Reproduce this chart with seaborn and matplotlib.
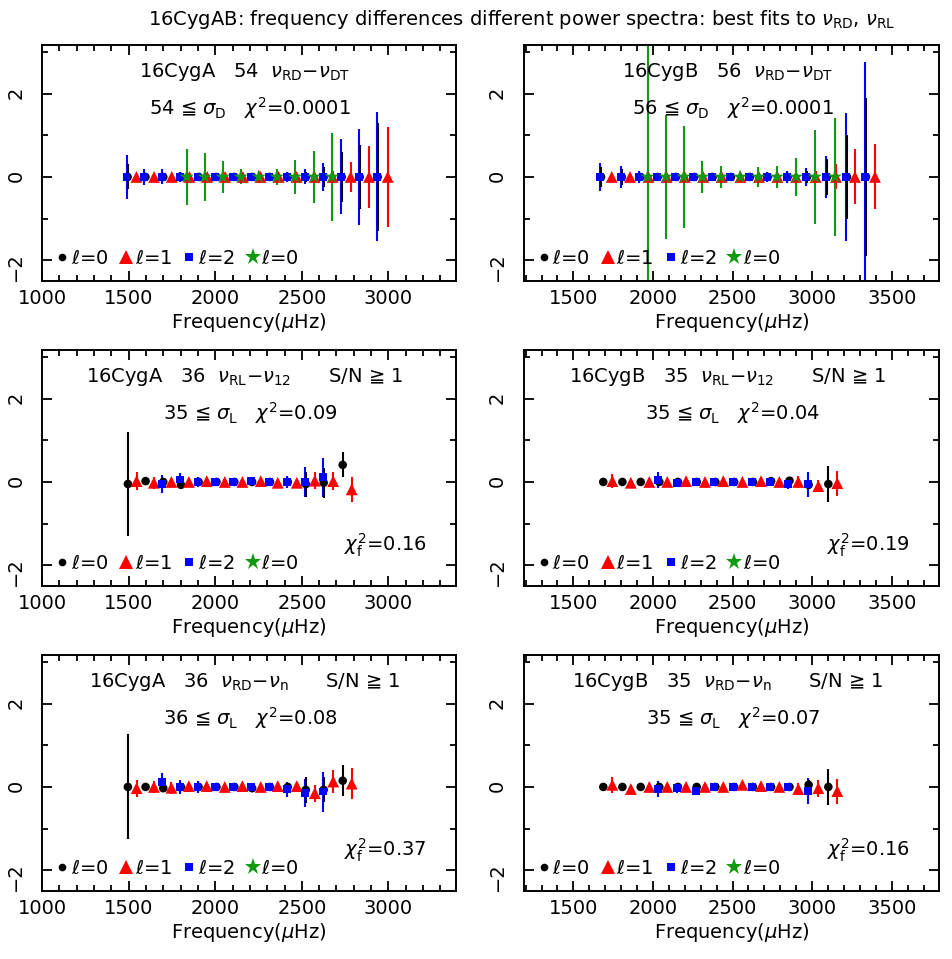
import matplotlib
matplotlib.use("Agg")
import matplotlib.pyplot as plt
import seaborn as sns
from matplotlib.lines import Line2D
from matplotlib.ticker import MultipleLocator

# ---------------- data (frequency in muHz, difference, error) ----------------
# row 1: nu_RD - nu_DT, all differences zero
dt_a_l0_nu = [1494, 1597, 1700, 1802, 1904, 2007, 2110, 2213, 2316, 2419, 2523, 2626, 2730, 2834, 2938]
dt_a_l0_err = [0.3, 0.1, 0.1, 0.08, 0.06, 0.05, 0.05, 0.05, 0.06, 0.08, 0.12, 0.25, 0.6, 0.76, 1.3]
dt_a_l1_nu = [1545, 1647, 1749, 1851, 1954, 2057, 2160, 2262, 2366, 2470, 2574, 2678, 2782, 2888, 2996]
dt_a_l1_err = [0.08, 0.06, 0.05, 0.05, 0.05, 0.05, 0.05, 0.05, 0.05, 0.06, 0.08, 0.15, 0.35, 0.75, 1.2]
dt_a_l2_nu = [1488, 1591, 1694, 1796, 1898, 2001, 2104, 2207, 2310, 2413, 2517, 2620, 2728, 2828, 2932]
dt_a_l2_err = [0.53, 0.2, 0.18, 0.12, 0.1, 0.08, 0.08, 0.08, 0.1, 0.12, 0.18, 0.33, 0.9, 1.15, 1.55]
dt_a_l3_nu = [1835, 1939, 2043, 2147, 2251, 2355, 2460, 2569, 2673]
dt_a_l3_err = [0.68, 0.58, 0.38, 0.18, 0.15, 0.2, 0.4, 0.62, 1.05]
dt_a_l0_dif = [0.0, 0.0, 0.0, 0.0, 0.0, 0.0, 0.0, 0.0, 0.0, 0.0, 0.0, 0.0, 0.0, 0.0, 0.0]
dt_a_l1_dif = [0.0, 0.0, 0.0, 0.0, 0.0, 0.0, 0.0, 0.0, 0.0, 0.0, 0.0, 0.0, 0.0, 0.0, 0.0]
dt_a_l2_dif = [0.0, 0.0, 0.0, 0.0, 0.0, 0.0, 0.0, 0.0, 0.0, 0.0, 0.0, 0.0, 0.0, 0.0, 0.0]
dt_a_l3_dif = [0.0, 0.0, 0.0, 0.0, 0.0, 0.0, 0.0, 0.0, 0.0]

dt_b_l0_nu = [1674, 1804, 1921, 2030, 2145, 2260, 2375, 2490, 2610, 2721, 2846, 2968, 3093, 3219, 3338]
dt_b_l0_err = [0.25, 0.2, 0.1, 0.08, 0.06, 0.05, 0.05, 0.05, 0.06, 0.08, 0.1, 0.15, 0.44, 1.0, 1.9]
dt_b_l1_nu = [1741, 1856, 1972, 2086, 2200, 2316, 2432, 2550, 2666, 2782, 2900, 3022, 3150, 3269, 3395]
dt_b_l1_err = [0.08, 0.06, 0.05, 0.05, 0.05, 0.05, 0.05, 0.05, 0.05, 0.06, 0.08, 0.15, 0.3, 0.66, 0.78]
dt_b_l2_nu = [1668, 1798, 1915, 2024, 2139, 2254, 2369, 2484, 2604, 2715, 2840, 2962, 3087, 3213, 3332]
dt_b_l2_err = [0.34, 0.27, 0.15, 0.1, 0.08, 0.08, 0.08, 0.08, 0.1, 0.12, 0.15, 0.22, 0.5, 1.53, 2.75]
dt_b_l3_nu = [1966, 2080, 2193, 2310, 2426, 2547, 2662, 2778, 2899, 3018, 3143]
dt_b_l3_err = [6.0, 1.5, 1.23, 0.38, 0.27, 0.12, 0.24, 0.27, 0.45, 1.13, 1.42]
dt_b_l0_dif = [0.0, 0.0, 0.0, 0.0, 0.0, 0.0, 0.0, 0.0, 0.0, 0.0, 0.0, 0.0, 0.0, 0.0, 0.0]
dt_b_l1_dif = [0.0, 0.0, 0.0, 0.0, 0.0, 0.0, 0.0, 0.0, 0.0, 0.0, 0.0, 0.0, 0.0, 0.0, 0.0]
dt_b_l2_dif = [0.0, 0.0, 0.0, 0.0, 0.0, 0.0, 0.0, 0.0, 0.0, 0.0, 0.0, 0.0, 0.0, 0.0, 0.0]
dt_b_l3_dif = [0.0, 0.0, 0.0, 0.0, 0.0, 0.0, 0.0, 0.0, 0.0, 0.0, 0.0]

# rows 2 and 3 share the S/N >= 1 mode sets
a_l0_nu = [1496, 1598, 1700, 1802, 1904, 2007, 2110, 2213, 2316, 2419, 2523, 2626, 2736]
a_l1_nu = [1546, 1646, 1747, 1848, 1951, 2055, 2157, 2263, 2361, 2471, 2575, 2681, 2788]
a_l2_nu = [1694, 1796, 1898, 2001, 2104, 2207, 2310, 2413, 2517, 2620]
b_l0_nu = [1688, 1808, 1923, 2040, 2157, 2275, 2392, 2510, 2628, 2742, 2858, 2978, 3102]
b_l1_nu = [1745, 1861, 1977, 2090, 2208, 2327, 2442, 2562, 2679, 2794, 2913, 3039, 3158]
b_l2_nu = [2034, 2149, 2269, 2386, 2505, 2624, 2736, 2850, 2972]

# row 2: nu_RL - nu_12
rl_a_l0_dif = [-0.05, 0.02, 0.0, -0.07, 0.0, 0.0, 0.0, 0.0, 0.0, 0.0, -0.05, -0.02, 0.41]
rl_a_l0_err = [1.25, 0.05, 0.08, 0.1, 0.05, 0.05, 0.05, 0.05, 0.05, 0.08, 0.3, 0.36, 0.3]
rl_a_l1_dif = [0.02, -0.02, 0.0, 0.0, 0.02, 0.0, 0.0, 0.02, -0.02, -0.02, 0.03, 0.02, -0.18]
rl_a_l1_err = [0.22, 0.15, 0.1, 0.08, 0.05, 0.05, 0.05, 0.05, 0.05, 0.08, 0.2, 0.22, 0.3]
rl_a_l2_dif = [-0.05, 0.06, 0.0, 0.0, 0.0, 0.02, 0.0, 0.0, 0.0, 0.11]
rl_a_l2_err = [0.22, 0.15, 0.12, 0.06, 0.06, 0.06, 0.08, 0.15, 0.35, 0.46]
rl_b_l0_dif = [0.0, 0.0, 0.0, 0.0, 0.0, 0.0, 0.0, 0.0, 0.0, 0.02, 0.03, -0.07, -0.05]
rl_b_l0_err = [0.1, 0.08, 0.06, 0.05, 0.05, 0.05, 0.05, 0.05, 0.05, 0.05, 0.08, 0.1, 0.43]
rl_b_l1_dif = [0.02, -0.02, 0.0, 0.0, 0.02, 0.0, 0.02, 0.0, 0.02, 0.0, 0.0, -0.1, -0.03]
rl_b_l1_err = [0.17, 0.1, 0.06, 0.05, 0.05, 0.05, 0.05, 0.05, 0.05, 0.05, 0.15, 0.15, 0.3]
rl_b_l2_dif = [0.05, -0.03, 0.0, 0.0, 0.0, 0.0, 0.0, -0.05, -0.05]
rl_b_l2_err = [0.2, 0.1, 0.06, 0.05, 0.05, 0.05, 0.06, 0.12, 0.3]

# row 3: nu_RD - nu_n
rd_a_l0_dif = [0.0, 0.0, -0.03, 0.0, 0.0, 0.0, 0.0, -0.03, 0.0, 0.0, -0.07, -0.07, 0.15]
rd_a_l0_err = [1.26, 0.05, 0.1, 0.08, 0.05, 0.05, 0.05, 0.05, 0.05, 0.08, 0.32, 0.3, 0.37]
rd_a_l1_dif = [-0.03, 0.0, -0.02, 0.02, 0.02, 0.0, 0.02, 0.0, 0.02, 0.02, -0.15, 0.13, 0.08]
rd_a_l1_err = [0.2, 0.15, 0.15, 0.08, 0.05, 0.05, 0.05, 0.05, 0.05, 0.08, 0.2, 0.28, 0.37]
rd_a_l2_dif = [0.11, 0.0, 0.0, 0.0, 0.0, 0.0, 0.0, -0.05, -0.14, -0.11]
rd_a_l2_err = [0.22, 0.17, 0.15, 0.06, 0.06, 0.06, 0.08, 0.18, 0.34, 0.48]
rd_b_l0_dif = [0.0, 0.0, 0.0, 0.0, 0.0, 0.0, 0.0, 0.0, 0.0, 0.0, 0.0, 0.05, 0.0]
rd_b_l0_err = [0.08, 0.06, 0.06, 0.05, 0.05, 0.05, 0.05, 0.05, 0.05, 0.05, 0.08, 0.12, 0.44]
rd_b_l1_dif = [0.05, -0.05, 0.0, 0.0, 0.0, 0.0, 0.0, 0.05, 0.02, 0.0, -0.05, -0.03, -0.1]
rd_b_l1_err = [0.2, 0.1, 0.06, 0.05, 0.05, 0.05, 0.05, 0.05, 0.05, 0.05, 0.15, 0.2, 0.3]
rd_b_l2_dif = [-0.05, -0.03, -0.1, 0.0, 0.0, 0.0, 0.0, 0.0, -0.1]
rd_b_l2_err = [0.2, 0.12, 0.06, 0.05, 0.05, 0.05, 0.06, 0.1, 0.32]

# panel annotations
titles_a = [r"16CygA   54  $\nu_{\mathrm{RD}}{-}\nu_{\mathrm{DT}}$",
            r"16CygA   36  $\nu_{\mathrm{RL}}{-}\nu_{12}$      S/N ≧ 1",
            r"16CygA   36  $\nu_{\mathrm{RD}}{-}\nu_{\mathrm{n}}$      S/N ≧ 1"]
titles_b = [r"16CygB   56  $\nu_{\mathrm{RD}}{-}\nu_{\mathrm{DT}}$",
            r"16CygB   35  $\nu_{\mathrm{RL}}{-}\nu_{12}$      S/N ≧ 1",
            r"16CygB   35  $\nu_{\mathrm{RD}}{-}\nu_{\mathrm{n}}$      S/N ≧ 1"]
fits_a = [r"54 ≦ $\sigma_{\mathrm{D}}$   $\chi^2$=0.0001",
          r"35 ≦ $\sigma_{\mathrm{L}}$   $\chi^2$=0.09",
          r"36 ≦ $\sigma_{\mathrm{L}}$   $\chi^2$=0.08"]
fits_b = [r"56 ≦ $\sigma_{\mathrm{D}}$   $\chi^2$=0.0001",
          r"35 ≦ $\sigma_{\mathrm{L}}$   $\chi^2$=0.04",
          r"35 ≦ $\sigma_{\mathrm{L}}$   $\chi^2$=0.07"]
chif_a = [None, "0.16", "0.37"]
chif_b = [None, "0.19", "0.16"]
legend_labels = [r"$\ell$=0", r"$\ell$=1", r"$\ell$=2", r"$\ell$=0"]

# ---------------- style ----------------
sns.set_style("ticks")
plt.rcParams.update({
    "font.family": ["DejaVu Sans"],
    "font.size": 14,
    "mathtext.fontset": "dejavusans",
    "text.color": "black", "axes.labelcolor": "black", "axes.edgecolor": "black",
    "xtick.color": "black", "ytick.color": "black",
    "xtick.labelcolor": "black", "ytick.labelcolor": "black",
    "axes.linewidth": 1.4,
    "xtick.direction": "in", "ytick.direction": "in",
    "xtick.top": True, "ytick.right": True,
    "xtick.major.size": 7, "ytick.major.size": 7,
    "xtick.minor.size": 4, "ytick.minor.size": 4,
    "xtick.major.width": 1.3, "ytick.major.width": 1.3,
    "xtick.minor.width": 1.3, "ytick.minor.width": 1.3,
    "xtick.labelsize": 14, "ytick.labelsize": 14,
    "axes.labelsize": 14,
})

BLACK, RED, BLUE, GREEN = "black", "#ff0000", "#0000ff", "#119911"
STYLE = {0: (BLACK, "o", 38), 1: (RED, "^", 72), 2: (BLUE, "s", 32), 3: (GREEN, "*", 115)}


def draw_panel(ax, series, xlim, head, fit, chif):
    # error bars: l=2, l=0, l=1, extra l=0 set (stars)
    for key in (2, 0, 1, 3):
        if key in series:
            nu, dif, err = series[key]
            ax.errorbar(nu, dif, yerr=err, fmt="none", ecolor=STYLE[key][0],
                        elinewidth=1.5, capsize=0, zorder=2)
    for key in (0, 1, 2, 3):
        if key in series:
            nu, dif, err = series[key]
            color, marker, size = STYLE[key]
            sns.scatterplot(x=nu, y=dif, ax=ax, color=color, marker=marker, s=size,
                            linewidth=0, edgecolor="none", legend=False, zorder=3)
    ax.set_xlim(*xlim)
    ax.set_ylim(-2.5, 3.17)
    ax.xaxis.set_major_locator(MultipleLocator(500))
    ax.xaxis.set_minor_locator(MultipleLocator(100))
    ax.yaxis.set_major_locator(MultipleLocator(2))
    ax.yaxis.set_minor_locator(MultipleLocator(1))
    ax.tick_params(axis="x", which="both", pad=6)
    ax.tick_params(axis="y", which="both", pad=12, labelrotation=90)
    ax.set_xlabel(r"Frequency($\mu$Hz)", labelpad=2)
    ax.set_ylabel("")
    ax.text(0.49, 0.864, head, transform=ax.transAxes, ha="center", va="baseline", fontsize=14)
    ax.text(0.503, 0.706, fit, transform=ax.transAxes, ha="center", va="baseline", fontsize=14)
    if chif is not None:
        ax.text(0.83, 0.148, r"$\chi^2_{\mathrm{f}}$=" + chif, transform=ax.transAxes,
                ha="center", va="baseline", fontsize=14)
    handles = [Line2D([], [], ls="none", marker="o", color=BLACK, markersize=5.5, markeredgewidth=0),
               Line2D([], [], ls="none", marker="^", color=RED, markersize=9.5, markeredgewidth=0),
               Line2D([], [], ls="none", marker="s", color=BLUE, markersize=6, markeredgewidth=0),
               Line2D([], [], ls="none", marker="*", color=GREEN, markersize=12.5, markeredgewidth=0)]
    ax.legend(handles, legend_labels, ncol=4, loc="center left", bbox_to_anchor=(0.034, 0.097),
              frameon=False, borderpad=0, borderaxespad=0, handlelength=0.6,
              handletextpad=0.15, columnspacing=0.6, fontsize=14)


fig = plt.figure(figsize=(9.53, 9.59), dpi=100)
left_x, left_w = 42 / 953, 414 / 953
right_x, right_w = 523.7 / 953, 415.6 / 953
bottoms = [1 - 281 / 959, 1 - 586 / 959, 1 - 891 / 959]
height = 236 / 959

panels_a = [
    {0: (dt_a_l0_nu, dt_a_l0_dif, dt_a_l0_err), 1: (dt_a_l1_nu, dt_a_l1_dif, dt_a_l1_err),
     2: (dt_a_l2_nu, dt_a_l2_dif, dt_a_l2_err), 3: (dt_a_l3_nu, dt_a_l3_dif, dt_a_l3_err)},
    {0: (a_l0_nu, rl_a_l0_dif, rl_a_l0_err), 1: (a_l1_nu, rl_a_l1_dif, rl_a_l1_err),
     2: (a_l2_nu, rl_a_l2_dif, rl_a_l2_err)},
    {0: (a_l0_nu, rd_a_l0_dif, rd_a_l0_err), 1: (a_l1_nu, rd_a_l1_dif, rd_a_l1_err),
     2: (a_l2_nu, rd_a_l2_dif, rd_a_l2_err)},
]
panels_b = [
    {0: (dt_b_l0_nu, dt_b_l0_dif, dt_b_l0_err), 1: (dt_b_l1_nu, dt_b_l1_dif, dt_b_l1_err),
     2: (dt_b_l2_nu, dt_b_l2_dif, dt_b_l2_err), 3: (dt_b_l3_nu, dt_b_l3_dif, dt_b_l3_err)},
    {0: (b_l0_nu, rl_b_l0_dif, rl_b_l0_err), 1: (b_l1_nu, rl_b_l1_dif, rl_b_l1_err),
     2: (b_l2_nu, rl_b_l2_dif, rl_b_l2_err)},
    {0: (b_l0_nu, rd_b_l0_dif, rd_b_l0_err), 1: (b_l1_nu, rd_b_l1_dif, rd_b_l1_err),
     2: (b_l2_nu, rd_b_l2_dif, rd_b_l2_err)},
]

for row in range(3):
    ax = fig.add_axes([left_x, bottoms[row], left_w, height])
    draw_panel(ax, panels_a[row], (1000, 3390), titles_a[row], fits_a[row], chif_a[row])
    ax = fig.add_axes([right_x, bottoms[row], right_w, height])
    draw_panel(ax, panels_b[row], (1188, 3799), titles_b[row], fits_b[row], chif_b[row])

fig.text(522 / 953, 1 - 25 / 959,
         r"16CygAB: frequency differences different power spectra: best fits to $\nu_{\mathrm{RD}}$, $\nu_{\mathrm{RL}}$",
         ha="center", va="baseline", fontsize=14)

fig.savefig("out.png", dpi=100)
